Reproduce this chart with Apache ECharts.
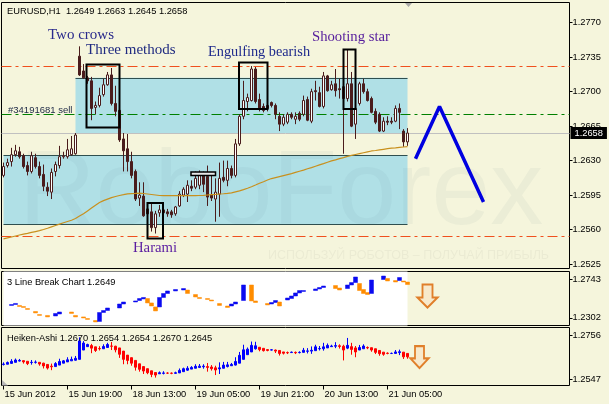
<!DOCTYPE html>
<html><head><meta charset="utf-8">
<script src="https://cdn.jsdelivr.net/npm/echarts@6/dist/echarts.min.js"></script>
<style>html,body{margin:0;padding:0;background:#f5f5dc}#c{width:609px;height:404px}</style>
</head><body><div id="c"></div>
<script>
// ---- axis / labels ----
const slotCount = 142;
const tickIndex = [0,16,32,48,64,80,96];
const tickText = ['15 Jun 2012','15 Jun 19:00','18 Jun 13:00','19 Jun 05:00','19 Jun 21:00','20 Jun 13:00','21 Jun 05:00'];
const priceTicks = [1.2525,1.2560,1.2595,1.2630,1.2665,1.2700,1.2735,1.2770];
const lbTicks = [1.2302,1.2743];
const haTicks = [1.2547,1.2756];

// ---- EURUSD H1 candles ----
const opens = [1.2615,1.2625,1.2629,1.2636,1.2639,1.2635,1.2625,1.2619,1.2633,1.2624,
1.2616,1.2603,1.2598,1.2619,1.2625,1.2634,1.2634,1.2636,1.2637,1.2736,
1.2721,1.2714,1.2711,1.2684,1.2686,1.2697,1.2707,1.2717,1.2688,1.2681,
1.2652,1.2642,1.2629,1.2619,1.2592,1.2594,1.2581,1.2578,1.2562,1.2577,
1.2580,1.2578,1.2578,1.2576,1.2584,1.2595,1.2596,1.2604,1.2603,1.2605,
1.2615,1.2614,1.2595,1.2591,1.2596,1.2613,1.2610,1.2622,1.2615,1.2647,
1.2675,1.2690,1.2691,1.2723,1.2692,1.2685,1.2686,1.2689,1.2686,1.2675,
1.2667,1.2669,1.2677,1.2672,1.2678,1.2677,1.2692,1.2670,1.2701,1.2699,
1.2685,1.2716,1.2702,1.2708,1.2703,1.2705,1.2693,1.2708,1.2667,1.2688,
1.2708,1.2700,1.2693,1.2680,1.2677,1.2660,1.2670,1.2670,1.2670,1.2683,
1.2660,1.2649];
const closes = [1.2624,1.2628,1.2636,1.2640,1.2634,1.2624,1.2619,1.2635,1.2624,1.2615,
1.2604,1.2599,1.2618,1.2626,1.2634,1.2635,1.2641,1.2642,1.2656,1.2717,
1.2714,1.2711,1.2683,1.2686,1.2696,1.2707,1.2717,1.2688,1.2680,1.2651,
1.2640,1.2629,1.2615,1.2591,1.2595,1.2574,1.2576,1.2562,1.2576,1.2580,
1.2577,1.2576,1.2575,1.2583,1.2596,1.2601,1.2605,1.2602,1.2612,1.2615,
1.2606,1.2593,1.2592,1.2598,1.2612,1.2610,1.2622,1.2615,1.2647,1.2675,
1.2691,1.2694,1.2723,1.2690,1.2683,1.2681,1.2683,1.2686,1.2677,1.2667,
1.2674,1.2677,1.2674,1.2675,1.2672,1.2691,1.2671,1.2700,1.2700,1.2685,
1.2716,1.2701,1.2707,1.2701,1.2702,1.2693,1.2708,1.2665,1.2683,1.2708,
1.2700,1.2691,1.2679,1.2669,1.2660,1.2670,1.2669,1.2669,1.2683,1.2679,
1.2649,1.2658];
const lows = [1.2613,1.2623,1.2624,1.2634,1.2632,1.2622,1.2615,1.2617,1.2622,1.2612,
1.2599,1.2594,1.2591,1.2614,1.2622,1.2632,1.2632,1.2635,1.2636,1.2716,
1.2713,1.2708,1.2671,1.2677,1.2684,1.2695,1.2706,1.2686,1.2675,1.2649,
1.2619,1.2619,1.2612,1.2589,1.2584,1.2573,1.2572,1.2558,1.2556,1.2573,
1.2571,1.2573,1.2572,1.2574,1.2583,1.2593,1.2588,1.2599,1.2601,1.2601,
1.2598,1.2584,1.2589,1.2568,1.2573,1.2608,1.2604,1.2612,1.2613,1.2645,
1.2672,1.2680,1.2690,1.2688,1.2680,1.2679,1.2680,1.2684,1.2672,1.2660,
1.2665,1.2667,1.2672,1.2667,1.2670,1.2675,1.2670,1.2668,1.2691,1.2684,
1.2683,1.2700,1.2701,1.2695,1.2693,1.2637,1.2690,1.2664,1.2652,1.2686,
1.2698,1.2690,1.2678,1.2667,1.2659,1.2659,1.2666,1.2667,1.2669,1.2662,
1.2644,1.2645];
const highs = [1.2628,1.2632,1.2643,1.2646,1.2644,1.2637,1.2629,1.2639,1.2637,1.2629,
1.2626,1.2608,1.2622,1.2629,1.2645,1.2639,1.2652,1.2655,1.2658,1.2746,
1.2728,1.2716,1.2715,1.2690,1.2704,1.2713,1.2720,1.2724,1.2706,1.2683,
1.2658,1.2657,1.2639,1.2621,1.2608,1.2608,1.2586,1.2586,1.2579,1.2585,
1.2586,1.2581,1.2580,1.2584,1.2599,1.2603,1.2610,1.2610,1.2619,1.2620,
1.2619,1.2625,1.2615,1.2612,1.2628,1.2630,1.2630,1.2625,1.2652,1.2677,
1.2711,1.2698,1.2726,1.2725,1.2698,1.2688,1.2689,1.2690,1.2688,1.2679,
1.2677,1.2679,1.2679,1.2679,1.2680,1.2696,1.2695,1.2703,1.2711,1.2705,
1.2720,1.2717,1.2711,1.2723,1.2713,1.2711,1.2743,1.2720,1.2705,1.2710,
1.2713,1.2703,1.2695,1.2683,1.2679,1.2674,1.2675,1.2674,1.2686,1.2688,
1.2662,1.2663];

// ---- moving average ----
const movingAvg = [1.25506,1.25516,1.25525,1.25535,1.25545,1.25554,1.25562,1.25571,1.25580,1.25589,
1.25601,1.25614,1.25628,1.25642,1.25656,1.25669,1.25682,1.25695,1.25713,1.25737,
1.25760,1.25789,1.25818,1.25847,1.25875,1.25894,1.25909,1.25924,1.25936,1.25946,
1.25954,1.25963,1.25965,1.25967,1.25970,1.25966,1.25961,1.25956,1.25951,1.25946,
1.25945,1.25944,1.25944,1.25944,1.25945,1.25945,1.25945,1.25945,1.25945,1.25946,
1.25947,1.25951,1.25954,1.25957,1.25961,1.25964,1.25968,1.25973,1.25983,1.25993,
1.26006,1.26020,1.26035,1.26052,1.26070,1.26086,1.26103,1.26118,1.26128,1.26138,
1.26148,1.26158,1.26168,1.26180,1.26192,1.26204,1.26217,1.26229,1.26243,1.26257,
1.26270,1.26284,1.26297,1.26308,1.26320,1.26331,1.26343,1.26353,1.26362,1.26371,
1.26380,1.26389,1.26398,1.26403,1.26409,1.26415,1.26421,1.26427,1.26430,1.26434,
1.26438,1.26442];

// ---- levels / zones / forecast zigzag ----
const levelHigh = 1.2726, orderLevel = 1.2677, levelLow = 1.2553, lastPrice = 1.2658;
const upperZone = [1.2658, 1.2714], lowerZone = [1.25654, 1.26355];
const upperZoneFrom = 18, lowerZoneFrom = 0, zoneTo = 101;
const zigX = [103,109,120];
const zigY = [1.2632,1.2685,1.2588];

// ---- 3 Line Break bricks ----
const lbIdx = [2,3,4,5,6,8,9,11,13,14,17,18,20,21,23,24,25,26,29,30,33,34,35,36,37,38,39,40,41,43,45,46,48,49,51,52,54,56,57,58,60,62,63,66,67,68,69,71,72,73,74,75,78,79,80,83,84,86,87,88,89,90,91,92,95,96,98,99,100,101];
const lbOpen = [1.2444,1.2455,1.2444,1.2432,1.2409,1.2375,1.2340,1.2329,1.2323,1.2346,
1.2369,1.2329,1.2312,1.2294,1.2271,1.2260,1.2363,1.2386,1.2415,1.2461,
1.2484,1.2501,1.2519,1.2524,1.2473,1.2427,1.2427,1.2536,1.2582,1.2611,
1.2622,1.2622,1.2570,1.2536,1.2524,1.2507,1.2467,1.2438,1.2438,1.2461,
1.2501,1.2680,1.2496,1.2467,1.2461,1.2478,1.2484,1.2507,1.2524,1.2553,
1.2588,1.2605,1.2616,1.2634,1.2651,1.2674,1.2645,1.2639,1.2680,1.2708,
1.2697,1.2628,1.2593,1.2582,1.2743,1.2755,1.2731,1.2731,1.2726,1.2714];
const lbClose = [1.2455,1.2467,1.2432,1.2421,1.2398,1.2358,1.2329,1.2312,1.2352,1.2369,
1.2352,1.2312,1.2300,1.2283,1.2254,1.2363,1.2386,1.2415,1.2461,1.2484,
1.2496,1.2524,1.2536,1.2473,1.2438,1.2381,1.2536,1.2582,1.2611,1.2628,
1.2639,1.2582,1.2542,1.2524,1.2513,1.2496,1.2444,1.2421,1.2461,1.2484,
1.2680,1.2496,1.2478,1.2450,1.2478,1.2501,1.2438,1.2530,1.2553,1.2588,
1.2616,1.2616,1.2634,1.2651,1.2668,1.2639,1.2622,1.2680,1.2708,1.2772,
1.2616,1.2582,1.2570,1.2737,1.2783,1.2726,1.2714,1.2766,1.2714,1.2685];

// ---- Heiken-Ashi ----
const haOpen = [1.2618,1.2619,1.2623,1.2628,1.2634,1.2636,1.2633,1.2627,1.2628,1.2628,
1.2624,1.2618,1.2610,1.2608,1.2615,1.2624,1.2630,1.2635,1.2638,1.2642,
1.2686,1.2702,1.2707,1.2701,1.2693,1.2692,1.2698,1.2705,1.2704,1.2696,
1.2681,1.2662,1.2650,1.2637,1.2621,1.2608,1.2598,1.2588,1.2580,1.2574,
1.2576,1.2577,1.2577,1.2576,1.2578,1.2584,1.2591,1.2596,1.2600,1.2604,
1.2607,1.2608,1.2606,1.2602,1.2597,1.2600,1.2608,1.2612,1.2615,1.2624,
1.2642,1.2664,1.2677,1.2692,1.2699,1.2694,1.2688,1.2686,1.2686,1.2684,
1.2677,1.2674,1.2674,1.2675,1.2674,1.2675,1.2680,1.2681,1.2683,1.2692,
1.2692,1.2696,1.2702,1.2704,1.2706,1.2704,1.2695,1.2702,1.2696,1.2686,
1.2692,1.2698,1.2697,1.2692,1.2684,1.2676,1.2671,1.2670,1.2670,1.2674,
1.2676,1.2670];
const haClose = [1.2620,1.2627,1.2633,1.2639,1.2637,1.2630,1.2622,1.2628,1.2629,1.2620,
1.2611,1.2601,1.2607,1.2622,1.2632,1.2635,1.2640,1.2642,1.2647,1.2729,
1.2719,1.2712,1.2695,1.2684,1.2692,1.2703,1.2712,1.2704,1.2687,1.2666,
1.2642,1.2637,1.2624,1.2605,1.2595,1.2587,1.2579,1.2571,1.2568,1.2579,
1.2578,1.2577,1.2576,1.2579,1.2590,1.2598,1.2600,1.2604,1.2609,1.2610,
1.2610,1.2604,1.2598,1.2592,1.2602,1.2615,1.2616,1.2618,1.2632,1.2661,
1.2687,1.2690,1.2708,1.2706,1.2688,1.2683,1.2684,1.2687,1.2681,1.2670,
1.2671,1.2673,1.2676,1.2673,1.2675,1.2685,1.2682,1.2685,1.2701,1.2693,
1.2701,1.2708,1.2705,1.2707,1.2703,1.2686,1.2708,1.2689,1.2677,1.2698,
1.2705,1.2696,1.2686,1.2675,1.2669,1.2666,1.2670,1.2670,1.2677,1.2678,
1.2654,1.2654];
const haLow = [1.2613,1.2619,1.2623,1.2628,1.2632,1.2622,1.2615,1.2617,1.2622,1.2612,
1.2599,1.2594,1.2591,1.2608,1.2615,1.2624,1.2630,1.2635,1.2636,1.2642,
1.2686,1.2702,1.2671,1.2677,1.2684,1.2692,1.2698,1.2686,1.2675,1.2649,
1.2619,1.2619,1.2612,1.2589,1.2584,1.2573,1.2572,1.2558,1.2556,1.2573,
1.2571,1.2573,1.2572,1.2574,1.2578,1.2584,1.2588,1.2596,1.2600,1.2601,
1.2598,1.2584,1.2589,1.2568,1.2573,1.2600,1.2604,1.2612,1.2613,1.2624,
1.2642,1.2664,1.2677,1.2688,1.2680,1.2679,1.2680,1.2684,1.2672,1.2660,
1.2665,1.2667,1.2672,1.2667,1.2670,1.2675,1.2670,1.2668,1.2683,1.2684,
1.2683,1.2696,1.2701,1.2695,1.2693,1.2637,1.2690,1.2664,1.2652,1.2686,
1.2692,1.2690,1.2678,1.2667,1.2659,1.2659,1.2666,1.2667,1.2669,1.2662,
1.2644,1.2645];
const haHigh = [1.2628,1.2632,1.2643,1.2646,1.2644,1.2637,1.2633,1.2639,1.2637,1.2629,
1.2626,1.2618,1.2622,1.2629,1.2645,1.2639,1.2652,1.2655,1.2658,1.2746,
1.2728,1.2716,1.2715,1.2701,1.2704,1.2713,1.2720,1.2724,1.2706,1.2696,
1.2681,1.2662,1.2650,1.2637,1.2621,1.2608,1.2598,1.2588,1.2580,1.2585,
1.2586,1.2581,1.2580,1.2584,1.2599,1.2603,1.2610,1.2610,1.2619,1.2620,
1.2619,1.2625,1.2615,1.2612,1.2628,1.2630,1.2630,1.2625,1.2652,1.2677,
1.2711,1.2698,1.2726,1.2725,1.2699,1.2694,1.2689,1.2690,1.2688,1.2684,
1.2677,1.2679,1.2679,1.2679,1.2680,1.2696,1.2695,1.2703,1.2711,1.2705,
1.2720,1.2717,1.2711,1.2723,1.2713,1.2711,1.2743,1.2720,1.2705,1.2710,
1.2713,1.2703,1.2697,1.2692,1.2684,1.2676,1.2675,1.2674,1.2686,1.2688,
1.2676,1.2670];

// ---------- build chart ----------
const chart = echarts.init(document.getElementById('c'), null, {renderer:'canvas'});
const cats = Array.from({length: slotCount}, (_, i) => String(i));
const f4 = v => v.toFixed(4);
const SMALL = '"Liberation Sans", Arial, sans-serif';
const SERIF = '"Liberation Serif", "Times New Roman", serif';
const lastIdx = closes.length - 1;

const candleData = opens.map((o, i) => [o, closes[i], lows[i], highs[i]]);
const haData = haOpen.map((o, i) => [o, haClose[i], haLow[i], haHigh[i]]);
const lbData = lbIdx.map((x, k) => [x, lbOpen[k], lbClose[k], Math.min(lbOpen[k], lbClose[k]), Math.max(lbOpen[k], lbClose[k])]);

const GL = 1.5, GW = 568;
const mainMin = 1.25205, mainMax = 1.27905;
const lbMin = 1.22133, lbMax = 1.28351;
const haMin = 1.25187, haMax = 1.27923;

function yAx(idx, min, max, ticks) {
  return {
    type: 'value', gridIndex: idx, position: 'right', min: min, max: max,
    axisLine: {show: false},
    splitLine: {show: false},
    axisTick: {show: true, length: 3, lineStyle: {color: '#000'}, customValues: ticks},
    axisLabel: {customValues: ticks, formatter: v => f4(v), color: '#000', fontSize: 9.3, fontFamily: SMALL, margin: 3}
  };
}
function xAx(idx, show) {
  return {
    type: 'category', gridIndex: idx, data: cats, boundaryGap: true,
    axisLine: {show: false},
    axisTick: show ? {show: true, length: 4, alignWithLabel: true, lineStyle: {color: '#000'}, interval: (i) => tickIndex.includes(i)} : {show: false},
    axisLabel: show ? {show: true, interval: (i) => tickIndex.includes(i), formatter: (v, i) => { const k = tickIndex.indexOf(i); return k >= 0 ? tickText[k] : ''; }, align: 'left', color: '#000', fontSize: 9.3, fontFamily: SMALL, margin: 4, padding: [0,0,0,1]} : {show: false},
    splitLine: {show: false}
  };
}

const arrowPath = 'path://M5,0 L15,0 L15,13 L20,13 L10,23 L0,13 L5,13 Z';
const dashDot = [10, 4, 3, 4];

const option = {
  backgroundColor: '#f5f5dc',
  animation: false,
  grid: [
    {left: GL, top: 2.5, width: GW, height: 266, show: true, borderColor: '#000', borderWidth: 1, backgroundColor: 'transparent'},
    {left: GL, top: 271.5, width: GW, height: 54, show: true, borderColor: '#000', borderWidth: 1, backgroundColor: 'transparent'},
    {left: GL, top: 327.5, width: GW, height: 58, show: true, borderColor: '#000', borderWidth: 1, backgroundColor: 'transparent'}
  ],
  xAxis: [xAx(0, false), xAx(1, false), xAx(2, true)],
  yAxis: [yAx(0, mainMin, mainMax, priceTicks), yAx(1, lbMin, lbMax, lbTicks), yAx(2, haMin, haMax, haTicks)],
  graphic: [
    {type: 'text', z: 2, silent: true, style: {text: 'RoboForex', x: 19, y: 142, font: '106px ' + SMALL, fill: 'rgba(70,110,130,0.055)', verticalAlign: 'top'}},
    {type: 'text', z: 2, silent: true, style: {text: 'ИСПОЛЬЗУЙ РОБОТОВ – ПОЛУЧАЙ ПРИБЫЛЬ', x: 268, y: 256, font: '12.5px ' + SMALL, fill: 'rgba(60,60,60,0.05)', verticalAlign: 'middle'}},
    {type: 'text', z: 20, silent: true, style: {text: 'EURUSD,H1  ' + [opens[lastIdx], highs[lastIdx], lows[lastIdx], closes[lastIdx]].map(f4).join(' '), x: 7, y: 11, font: '9.3px ' + SMALL, fill: '#000', verticalAlign: 'middle'}},
    {type: 'text', z: 20, silent: true, style: {text: '#34191681 sell', x: 8, y: 110, font: '9.5px ' + SMALL, fill: '#1c2744', verticalAlign: 'middle'}},
    {type: 'text', z: 20, silent: true, style: {text: 'Two crows', x: 48, y: 35, font: '15px ' + SERIF, fill: '#2a2a8c', verticalAlign: 'middle'}},
    {type: 'text', z: 20, silent: true, style: {text: 'Three methods', x: 86, y: 50, font: '15px ' + SERIF, fill: '#1f2a80', verticalAlign: 'middle'}},
    {type: 'text', z: 20, silent: true, style: {text: 'Engulfing bearish', x: 208, y: 52, font: '14.3px ' + SERIF, fill: '#1f2a8c', verticalAlign: 'middle'}},
    {type: 'text', z: 20, silent: true, style: {text: 'Shooting star', x: 312, y: 37, font: '14.7px ' + SERIF, fill: '#551c9c', verticalAlign: 'middle'}},
    {type: 'text', z: 20, silent: true, style: {text: 'Harami', x: 133, y: 248, font: '14.7px ' + SERIF, fill: '#5a1ca0', verticalAlign: 'middle'}},
    {type: 'rect', z: 20, silent: true, shape: {x: 86.5, y: 64.5, width: 33, height: 63}, style: {fill: 'none', stroke: '#000', lineWidth: 2}},
    {type: 'rect', z: 20, silent: true, shape: {x: 239, y: 62.5, width: 28.5, height: 46.5}, style: {fill: 'none', stroke: '#000', lineWidth: 2}},
    {type: 'rect', z: 20, silent: true, shape: {x: 343.5, y: 49.5, width: 12, height: 59.5}, style: {fill: 'none', stroke: '#000', lineWidth: 2}},
    {type: 'rect', z: 20, silent: true, shape: {x: 147.5, y: 203, width: 15.5, height: 35.5}, style: {fill: 'none', stroke: '#000', lineWidth: 2}},
    {type: 'rect', z: 20, silent: true, shape: {x: 191, y: 172, width: 24.5, height: 3.5}, style: {fill: '#e8e8e8', stroke: '#000', lineWidth: 1.5}},
    {type: 'text', z: 20, silent: true, style: {text: '3 Line Break Chart 1.2649', x: 7, y: 282, font: '9.3px ' + SMALL, fill: '#000', verticalAlign: 'middle'}},
    {type: 'text', z: 20, silent: true, style: {text: 'Heiken-Ashi 1.2670 1.2654 1.2654 1.2670 1.2645', x: 7, y: 338, font: '9.3px ' + SMALL, fill: '#000', verticalAlign: 'middle'}},
    {type: 'polygon', z: 20, silent: true, shape: {points: [[405,3],[412,3],[408.5,7]]}, style: {fill: '#a8a8a8'}},
    {type: 'polygon', z: 20, silent: true, shape: {points: [[2,380],[2,385.5],[8,385.5]]}, style: {fill: '#b8b8b8'}}
  ],
  series: [
    {
      type: 'line', xAxisIndex: 0, yAxisIndex: 0, data: [], z: 1, silent: true,
      markArea: {
        silent: true, z: 1, itemStyle: {color: '#b0e0e6'}, label: {show: false},
        data: [
          [{xAxis: upperZoneFrom, yAxis: upperZone[1]}, {xAxis: zoneTo, yAxis: upperZone[0]}],
          [{xAxis: lowerZoneFrom, yAxis: lowerZone[1]}, {xAxis: zoneTo, yAxis: lowerZone[0]}]
        ]
      }
    },
    {
      name: 'EURUSD', type: 'candlestick', xAxisIndex: 0, yAxisIndex: 0, z: 4, barWidth: 3,
      data: candleData,
      itemStyle: {color: '#ffffff', color0: '#4a1c1c', borderColor: '#4a1c1c', borderColor0: '#4a1c1c', borderWidth: 1},
      markLine: {
        silent: true, z: 3, precision: 5, symbol: ['none', 'none'], label: {show: false},
        data: [
          [{coord: [upperZoneFrom, upperZone[1]], lineStyle: {color: '#2f4f4f', type: 'solid', width: 1}}, {coord: [zoneTo, upperZone[1]]}],
          [{coord: [lowerZoneFrom, lowerZone[1]], lineStyle: {color: '#2f4f4f', type: 'solid', width: 1}}, {coord: [zoneTo, lowerZone[1]]}],
          [{coord: [lowerZoneFrom, lowerZone[0]], lineStyle: {color: '#2f4f4f', type: 'solid', width: 1}}, {coord: [zoneTo, lowerZone[0]]}],
          {yAxis: levelHigh, lineStyle: {color: '#f0501e', type: dashDot, width: 1}},
          {yAxis: orderLevel, lineStyle: {color: '#008000', type: dashDot, width: 1}},
          {yAxis: levelLow, lineStyle: {color: '#f0501e', type: dashDot, width: 1}},
          {yAxis: lastPrice, lineStyle: {color: '#c0c0c0', type: 'solid', width: 1},
           label: {show: true, position: 'end', formatter: f4(lastPrice), backgroundColor: '#000', color: '#fff', padding: [2, 4, 1, 4], distance: 1, fontSize: 9.3, fontFamily: SMALL}}
        ]
      }
    },
    {
      name: 'MA', type: 'line', xAxisIndex: 0, yAxisIndex: 0, z: 5, data: movingAvg, symbol: 'none',
      lineStyle: {color: '#c8901e', width: 1.2}
    },
    {
      name: 'Forecast', type: 'line', xAxisIndex: 0, yAxisIndex: 0, z: 6, symbol: 'none',
      data: zigX.map((x, k) => [x, zigY[k]]),
      lineStyle: {color: '#0000e0', width: 3.5}
    },
    {
      name: '3LB', type: 'candlestick', xAxisIndex: 1, yAxisIndex: 1, z: 4, barWidth: 4,
      data: lbData, encode: {x: 0, y: [1, 2, 3, 4]},
      itemStyle: {color: '#0a0af0', color0: '#ff8c00', borderColor: '#0a0af0', borderColor0: '#ff8c00', borderWidth: 0.5},
      markArea: {silent: true, z: 1, itemStyle: {color: '#ffffff'}, data: [[{xAxis: 0, yAxis: lbMax}, {xAxis: zoneTo, yAxis: lbMin}]]},
      markPoint: {silent: true, symbol: arrowPath, symbolSize: [20, 23], label: {show: false},
        itemStyle: {color: '#f7e9cc', borderColor: '#e07f2a', borderWidth: 2},
        data: [{coord: [106, 1.2553]}]}
    },
    {
      name: 'HA', type: 'candlestick', xAxisIndex: 2, yAxisIndex: 2, z: 4, barWidth: 3,
      data: haData,
      itemStyle: {color: '#0000ff', color0: '#ff0000', borderColor: '#0000ff', borderColor0: '#ff0000', borderWidth: 1},
      markPoint: {silent: true, symbol: arrowPath, symbolSize: [18, 22], label: {show: false},
        itemStyle: {color: '#f7e9cc', borderColor: '#e07f2a', borderWidth: 2},
        data: [{coord: [104, 1.2653]}]}
    }
  ]
};
chart.setOption(option);
</script>
</body></html>
